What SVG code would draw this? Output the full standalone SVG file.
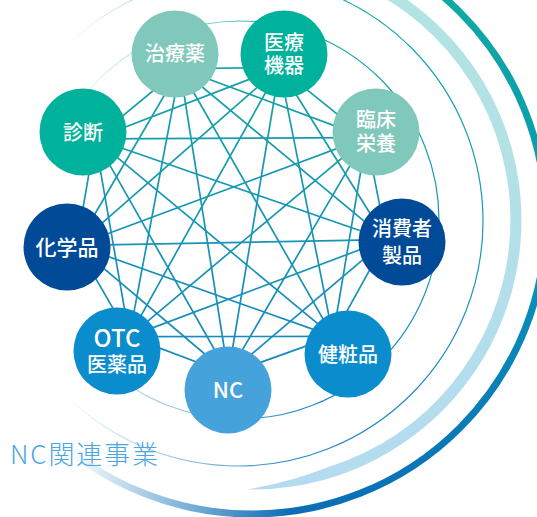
<svg xmlns="http://www.w3.org/2000/svg" width="537" height="517" viewBox="0 0 537 517">
<style>
  .lbl { font-family: "Noto Sans CJK JP", "Noto Sans", sans-serif; fill: #ffffff; font-size: 20px; font-weight: 500; text-anchor: middle; }
  .edges line { stroke: url(#edgeGrad); stroke-width: 1.7; }
  .ring { fill: none; stroke: url(#ringGrad); stroke-width: 1.2; }
  .teal { fill: #00b19c; }
  .sage { fill: #80c8bb; }
  .navy { fill: #004a98; }
  .blue { fill: #0a8ccd; }
  .sky { fill: #45a2da; }
</style>
<defs>
  <linearGradient id="edgeGrad" gradientUnits="userSpaceOnUse" x1="0" y1="60" x2="0" y2="380">
    <stop offset="0" stop-color="#15a3a6"/>
    <stop offset="1" stop-color="#1888c2"/>
  </linearGradient>
  <linearGradient id="ringGrad" gradientUnits="userSpaceOnUse" x1="0" y1="0" x2="0" y2="470">
    <stop offset="0" stop-color="#17a9a6"/>
    <stop offset="0.5" stop-color="#1699bb"/>
    <stop offset="1" stop-color="#2a88cc"/>
  </linearGradient>
  <linearGradient id="darkGrad" gradientUnits="userSpaceOnUse" x1="0" y1="0" x2="0" y2="515">
    <stop offset="0" stop-color="#0fa9a2"/>
    <stop offset="0.5" stop-color="#0894b8"/>
    <stop offset="1" stop-color="#0a6db6"/>
  </linearGradient>
  <linearGradient id="lightGrad" gradientUnits="userSpaceOnUse" x1="0" y1="0" x2="0" y2="490">
    <stop offset="0" stop-color="#b2e4e2"/>
    <stop offset="1" stop-color="#b4dbf0"/>
  </linearGradient>
  <linearGradient id="fadeGrad" gradientUnits="userSpaceOnUse" x1="68" y1="0" x2="290" y2="0">
    <stop offset="0" stop-color="#000000"/>
    <stop offset="0.35" stop-color="#5a5a5a"/>
    <stop offset="1" stop-color="#ffffff"/>
  </linearGradient>
  <mask id="fade" maskUnits="userSpaceOnUse" x="0" y="0" width="537" height="517">
    <rect x="0" y="0" width="537" height="517" fill="url(#fadeGrad)"/>
  </mask>
</defs>

<rect width="537" height="517" fill="#ffffff"/>

<g id="rings">
  <g mask="url(#fade)">
    <circle class="ring" cx="240" cy="220" r="199"/>
    <circle class="ring" cx="238" cy="221" r="245"/>
    <circle cx="252" cy="220" r="294" fill="none" stroke="url(#darkGrad)" stroke-width="7"/>
  </g>
  <path id="light-band" fill="url(#lightGrad)" d="M378.5,-17.9 A269.5,269.5 0 0 1 247.3,489.5 Q288.9,482.4 328.4,466.9 A258.5,258.5 0 0 0 373.4,-8.2 Z"/>
</g>

<g id="connectors" class="edges">
  <line x1="180" y1="68.5" x2="279.5" y2="67.7"/>
  <line x1="180" y1="68.5" x2="366.4" y2="137.6"/>
  <line x1="180" y1="68.5" x2="386.4" y2="239.7"/>
  <line x1="180" y1="68.5" x2="333" y2="336.4"/>
  <line x1="180" y1="68.5" x2="228.3" y2="374"/>
  <line x1="180" y1="68.5" x2="129.3" y2="336.6"/>
  <line x1="180" y1="68.5" x2="76.6" y2="245.3"/>
  <line x1="180" y1="68.5" x2="94.9" y2="138.8"/>
  <line x1="279.5" y1="67.7" x2="366.4" y2="137.6"/>
  <line x1="279.5" y1="67.7" x2="386.4" y2="239.7"/>
  <line x1="279.5" y1="67.7" x2="333" y2="336.4"/>
  <line x1="279.5" y1="67.7" x2="228.3" y2="374"/>
  <line x1="279.5" y1="67.7" x2="129.3" y2="336.6"/>
  <line x1="279.5" y1="67.7" x2="76.6" y2="245.3"/>
  <line x1="279.5" y1="67.7" x2="94.9" y2="138.8"/>
  <line x1="366.4" y1="137.6" x2="386.4" y2="239.7"/>
  <line x1="366.4" y1="137.6" x2="333" y2="336.4"/>
  <line x1="366.4" y1="137.6" x2="228.3" y2="374"/>
  <line x1="366.4" y1="137.6" x2="129.3" y2="336.6"/>
  <line x1="366.4" y1="137.6" x2="76.6" y2="245.3"/>
  <line x1="366.4" y1="137.6" x2="94.9" y2="138.8"/>
  <line x1="386.4" y1="239.7" x2="333" y2="336.4"/>
  <line x1="386.4" y1="239.7" x2="228.3" y2="374"/>
  <line x1="386.4" y1="239.7" x2="129.3" y2="336.6"/>
  <line x1="386.4" y1="239.7" x2="76.6" y2="245.3"/>
  <line x1="386.4" y1="239.7" x2="94.9" y2="138.8"/>
  <line x1="333" y1="336.4" x2="228.3" y2="374"/>
  <line x1="333" y1="336.4" x2="129.3" y2="336.6"/>
  <line x1="333" y1="336.4" x2="76.6" y2="245.3"/>
  <line x1="333" y1="336.4" x2="94.9" y2="138.8"/>
  <line x1="228.3" y1="374" x2="129.3" y2="336.6"/>
  <line x1="228.3" y1="374" x2="76.6" y2="245.3"/>
  <line x1="228.3" y1="374" x2="94.9" y2="138.8"/>
  <line x1="129.3" y1="336.6" x2="76.6" y2="245.3"/>
  <line x1="129.3" y1="336.6" x2="94.9" y2="138.8"/>
  <line x1="76.6" y1="245.3" x2="94.9" y2="138.8"/>
</g>

<g id="node-chiryoyaku">
  <circle class="sage" cx="175" cy="54" r="43.5"/>
  <text class="lbl" x="175" y="61">治療薬</text>
</g>
<g id="node-iryokiki">
  <circle class="teal" cx="284" cy="54" r="43.5"/>
  <text class="lbl" x="284" y="49.5">医療</text>
  <text class="lbl" x="284" y="73">機器</text>
</g>
<g id="node-rinsho">
  <circle class="sage" cx="376" cy="132" r="43.5"/>
  <text class="lbl" x="376" y="127">臨床</text>
  <text class="lbl" x="376" y="151">栄養</text>
</g>
<g id="node-shohisha">
  <circle class="navy" cx="402" cy="242" r="43.5"/>
  <text class="lbl" x="402" y="236">消費者</text>
  <text class="lbl" x="402" y="263">製品</text>
</g>
<g id="node-kensho">
  <circle class="blue" cx="348" cy="354" r="43.5"/>
  <text class="lbl" x="348" y="361.5">健粧品</text>
</g>
<g id="node-nc">
  <circle class="sky" cx="228" cy="390" r="43.5"/>
  <text class="lbl" x="228" y="398" style="font-size:22px">NC</text>
</g>
<g id="node-otc">
  <circle class="blue" cx="117" cy="351" r="43.5"/>
  <text class="lbl" x="117" y="347" style="font-size:24px">OTC</text>
  <text class="lbl" x="117" y="371.5">医薬品</text>
</g>
<g id="node-kagakuhin">
  <circle class="navy" cx="67" cy="247" r="43.5"/>
  <text class="lbl" x="67" y="255" style="font-size:21px">化学品</text>
</g>
<g id="node-shindan">
  <circle class="teal" cx="83" cy="132" r="43.5"/>
  <text class="lbl" x="83" y="139.5">診断</text>
</g>

<text id="title" x="10" y="464" textLength="148" lengthAdjust="spacing" style="font-family:'Noto Sans CJK JP','Noto Sans',sans-serif;font-size:26px;font-weight:300;fill:#4aa6de">NC関連事業</text>
</svg>
